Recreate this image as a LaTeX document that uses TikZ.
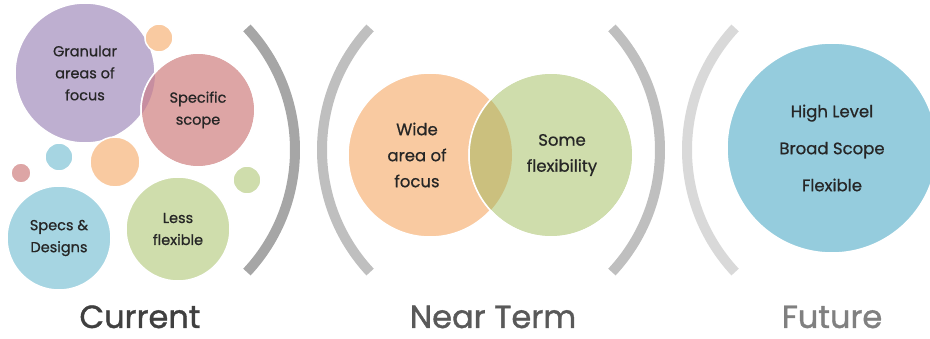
\documentclass[tikz,border=0pt]{standalone}
\usepackage{fontspec}
\setmainfont{Poppins}[FakeBold=0.7]
\newfontfamily\headfont{Poppins}[FakeBold=1.2]

\definecolor{lilac}{HTML}{BEAFD0}
\definecolor{peach}{HTML}{F9CAA1}
\definecolor{rose}{HTML}{DDA5A5}
\definecolor{sky}{HTML}{A6D5E2}
\definecolor{skydeep}{HTML}{95CCDD}
\definecolor{sage}{HTML}{CFDDAC}
\definecolor{mauve}{HTML}{C78EA0}
\definecolor{olive}{HTML}{CBC07E}
\definecolor{inkgray}{HTML}{262626}

\tikzset{
  bubble/.style={circle, inner sep=0pt, draw=white, line width=1.5pt, align=center,
    text=inkgray, font=\fontsize{14.5}{22}\selectfont},
  bigtext/.style={align=center, text=inkgray, font=\fontsize{16.5}{26}\selectfont},
  bracket/.style={line width=10pt},
  period/.style={anchor=base, inner sep=0pt, font=\headfont\fontsize{32}{32}\selectfont}
}

\begin{document}
\begin{tikzpicture}[x=1pt, y=-1pt]
  \useasboundingbox (0,0) rectangle (930,339);

  % current
  \node[bubble, fill=lilac, minimum size=140pt] (gran) at (85,73) {Granular\\areas of\\focus};
  \node[bubble, fill=peach, minimum size=28pt] (dotA) at (159,38) {};
  \node[bubble, fill=rose, minimum size=114pt] (spec) at (198,110) {};
  \begin{scope}
    \clip (gran.center) circle (70pt);
    \fill[mauve] (spec.center) circle (57pt);
  \end{scope}
  \draw[white, line width=1.5pt] (spec.center) circle (57pt);
  \node[align=center, text=inkgray, font=\fontsize{14.5}{22}\selectfont] (specTxt) at (spec.center) {Specific\\scope};
  \node[bubble, fill=peach, minimum size=50pt] (dotB) at (115,162) {};
  \node[bubble, fill=sky, minimum size=28pt] (dotC) at (59,157) {};
  \node[bubble, fill=rose, minimum size=20pt] (dotD) at (21,173) {};
  \node[bubble, fill=sage, minimum size=28pt] (dotE) at (247,180) {};
  \node[bubble, fill=sky, minimum size=104pt] (specs) at (59,238) {Specs \&\\Designs};
  \node[bubble, fill=sage, minimum size=104pt] (less) at (178,229) {Less\\flexible};

  % near term
  \node[bubble, fill=peach, minimum size=164pt] (wide) at (430,155) {};
  \node[bubble, fill=sage, minimum size=164pt] (some) at (551,155) {};
  \begin{scope}
    \clip (wide.center) circle (82pt);
    \fill[olive] (some.center) circle (82pt);
  \end{scope}
  \draw[white, line width=1.5pt] (some.center) circle (82pt);
  \node[bigtext] (wideTxt) at ([xshift=-13pt]wide.center) {Wide\\area of\\focus};
  \node[bigtext] (someTxt) at ([xshift=11pt]some.center) {Some\\flexibility};

  % future
  \node[bubble, fill=skydeep, minimum size=210pt, font=\fontsize{16.5}{37}\selectfont] (high) at (832,148) {High Level\\Broad Scope\\Flexible};

  % brackets
  \draw[bracket, gray!70] ([shift={(-43:179)}]116,150) arc[start angle=-43, end angle=43, radius=179];
  \draw[bracket, gray!50] ([shift={(137:179)}]501,150) arc[start angle=137, end angle=223, radius=179];
  \draw[bracket, gray!50] ([shift={(-43:179)}]481,150) arc[start angle=-43, end angle=43, radius=179];
  \draw[bracket, gray!30] ([shift={(137:179)}]866,150) arc[start angle=137, end angle=223, radius=179];

  % labels
  \node[period, text=black!75] (current) at (140,328) {Current};
  \node[period, text=black!65] (near) at (493,328) {Near Term};
  \node[period, text=black!50] (future) at (832,328) {Future};
\end{tikzpicture}
\end{document}
